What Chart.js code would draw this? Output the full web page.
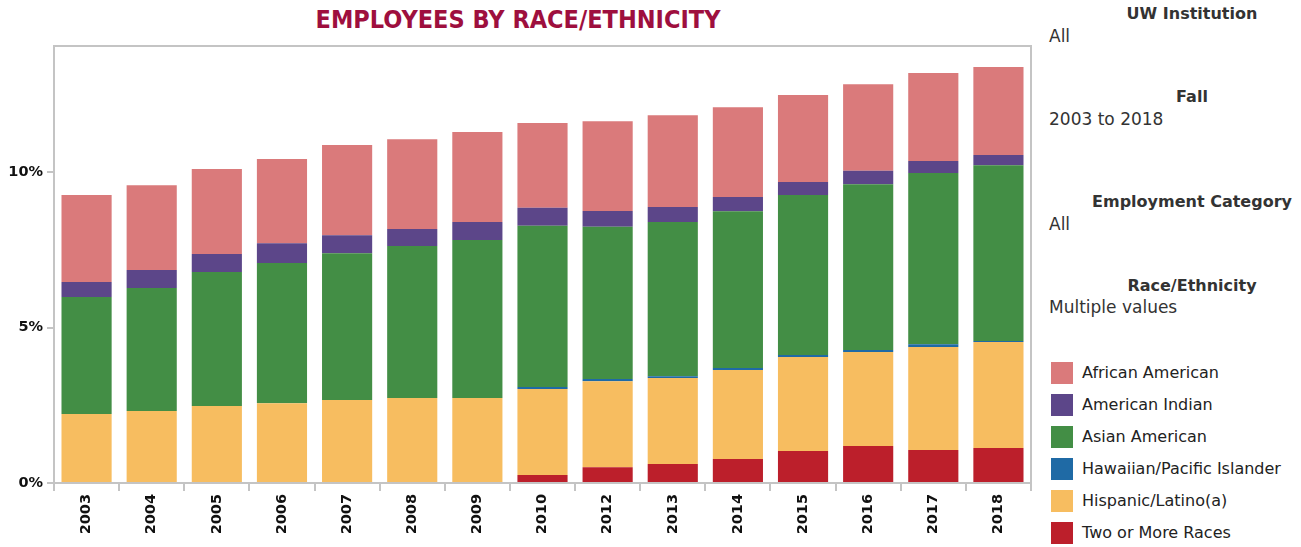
<!DOCTYPE html>
<html>
<head>
<meta charset="utf-8">
<script src="https://cdn.jsdelivr.net/npm/chart.js@4"></script>
<style>
  body { margin: 0; background: #fff; font-family: "DejaVu Sans", sans-serif; }
  #wrap { position: relative; width: 1301px; height: 547px; overflow: hidden; }
  #chartBox { position: absolute; left: 0; top: 0; width: 1040px; height: 547px; }
  #title { position: absolute; left: 218px; top: 5px; width: 600px; text-align: center;
    font-family: "Liberation Sans Narrow", "DejaVu Sans Condensed", sans-serif; font-weight: bold;
    font-size: 25px; color: #9e0f3e; white-space: nowrap; }
  .hdr { position: absolute; left: 1092px; width: 200px; text-align: center; font-weight: bold;
    font-size: 16px; color: #333; white-space: nowrap; }
  .val { position: absolute; left: 1049px; font-size: 17px; color: #333; white-space: nowrap; }
  .leg { position: absolute; left: 1051px; height: 22px; font-size: 16px; color: #222; white-space: nowrap; }
  .leg span.sw { position: absolute; left: 0; top: 0; width: 22px; height: 22px; }
  .leg span.tx { position: absolute; left: 31px; top: 1px; }
</style>
</head>
<body>
<div id="wrap">
  <div id="title">EMPLOYEES BY RACE/ETHNICITY</div>
  <div id="chartBox"><canvas id="raceChart" width="1040" height="547"></canvas></div>
  <div class="hdr" style="top:4px">UW Institution</div>
  <div class="val" style="top:26px">All</div>
  <div class="hdr" style="top:87px">Fall</div>
  <div class="val" style="top:109px">2003 to 2018</div>
  <div class="hdr" style="top:192px">Employment Category</div>
  <div class="val" style="top:214px">All</div>
  <div class="hdr" style="top:276px">Race/Ethnicity</div>
  <div class="val" style="top:297px">Multiple values</div>
  <div id="legend"></div>
</div>
<script>
// fall years (no 2011 in the data)
const years = ['2003','2004','2005','2006','2007','2008','2009','2010','2012','2013','2014','2015','2016','2017','2018'];

// share of employees, percent
const twoOrMore = [null, null, null, null, null, null, null, 0.26, 0.51, 0.61, 0.77, 1.03, 1.19, 1.06, 1.13];
const hispanic  = [2.22, 2.32, 2.48, 2.57, 2.67, 2.74, 2.74, 2.77, 2.77, 2.77, 2.87, 3.03, 3.03, 3.32, 3.41];
const hawaiian  = [null, null, null, null, null, null, null, 0.06, 0.07, 0.06, 0.06, 0.06, 0.06, 0.09, 0.03];
const asian     = [3.77, 3.96, 4.31, 4.51, 4.73, 4.89, 5.08, 5.19, 4.90, 4.96, 5.05, 5.15, 5.34, 5.51, 5.66];
const amIndian  = [0.48, 0.58, 0.58, 0.64, 0.58, 0.55, 0.58, 0.58, 0.51, 0.49, 0.46, 0.42, 0.43, 0.39, 0.33];
const african   = [2.80, 2.73, 2.74, 2.71, 2.90, 2.89, 2.90, 2.73, 2.89, 2.95, 2.89, 2.80, 2.79, 2.83, 2.83];

const yTicks = [0, 5, 10];

const series = [
  { label: 'Two or More Races', data: twoOrMore, color: '#bc1f2b' },
  { label: 'Hispanic/Latino(a)', data: hispanic, color: '#f7bd60' },
  { label: 'Hawaiian/Pacific Islander', data: hawaiian, color: '#1f6aa5' },
  { label: 'Asian American', data: asian, color: '#438e45' },
  { label: 'American Indian', data: amIndian, color: '#5c4689' },
  { label: 'African American', data: african, color: '#da7a7b' }
];

const axisGrey = '#c4c4c4';
const tickFont = { family: 'DejaVu Sans', size: 14.5, weight: 'bold' };

// grey box round the plot (top and right sides)
const frame = {
  id: 'frame',
  afterDraw(chart) {
    const a = chart.chartArea, c = chart.ctx;
    c.save();
    c.strokeStyle = axisGrey;
    c.lineWidth = 2;
    c.beginPath();
    c.moveTo(a.left, a.top);
    c.lineTo(a.right, a.top);
    c.lineTo(a.right, a.bottom);
    c.stroke();
    c.restore();
  }
};

new Chart(document.getElementById('raceChart'), {
  type: 'bar',
  data: {
    labels: years,
    datasets: series.map(s => ({
      label: s.label,
      data: s.data,
      backgroundColor: s.color,
      borderWidth: 0,
      barPercentage: 0.77,
      categoryPercentage: 1
    }))
  },
  options: {
    responsive: false,
    animation: false,
    layout: { padding: { top: 46, right: 9, left: 0, bottom: 0 } },
    plugins: { legend: { display: false }, title: { display: false }, tooltip: { enabled: false } },
    scales: {
      x: {
        stacked: true,
        afterFit: s => { s.height = 64; },
        grid: { display: true, drawOnChartArea: false, drawTicks: true, tickLength: 8, color: axisGrey, lineWidth: 2, offset: true },
        border: { color: axisGrey, width: 2 },
        ticks: { color: '#111', font: tickFont, minRotation: 90, maxRotation: 90, padding: 3, autoSkip: false }
      },
      y: {
        stacked: true,
        min: 0,
        max: 14.07,
        afterFit: s => { s.width = 54; },
        afterBuildTicks: s => { s.ticks = yTicks.map(v => ({ value: v })); },
        grid: { display: true, drawOnChartArea: false, drawTicks: true, tickLength: 7, color: axisGrey, lineWidth: 2 },
        border: { color: axisGrey, width: 2 },
        ticks: { color: '#111', font: tickFont, padding: 4, callback: v => v + '%' }
      }
    }
  },
  plugins: [frame]
});

// legend in alphabetical order, top of the stack first
const legend = document.getElementById('legend');
series.slice().reverse().forEach((s, i) => {
  const row = document.createElement('div');
  row.className = 'leg';
  row.style.top = (362 + i * 32) + 'px';
  row.innerHTML = `<span class="sw" style="background:${s.color}"></span><span class="tx">${s.label}</span>`;
  legend.appendChild(row);
});
</script>
</body>
</html>
